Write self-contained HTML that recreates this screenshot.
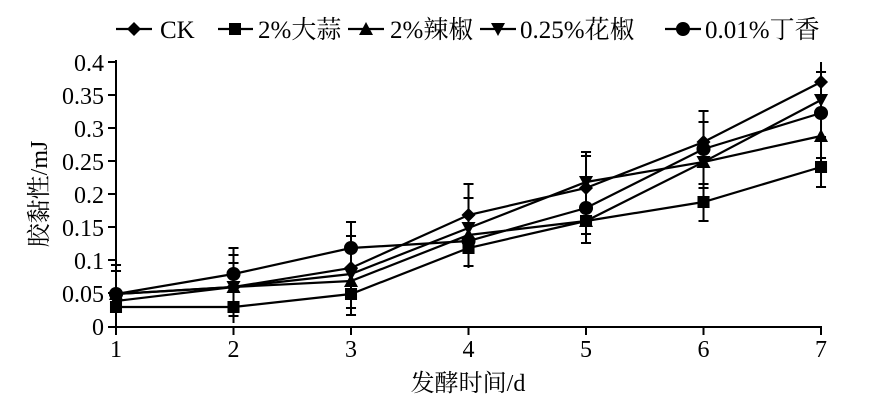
<!DOCTYPE html>
<html><head><meta charset="utf-8"><style>body{margin:0;background:#fff}svg{display:block}</style></head><body>
<svg width="874" height="402" viewBox="0 0 874 402" xmlns="http://www.w3.org/2000/svg" font-family="'Liberation Serif','Noto Serif CJK SC',serif">
<defs>
<path id="dia" d="M0,-7 L7,0 L0,7 L-7,0Z"/>
<rect id="sq" x="-6" y="-6" width="12" height="12"/>
<path id="tri" d="M0,-7 L7,6 L-7,6Z"/>
<path id="itri" d="M0,7 L7,-6 L-7,-6Z"/>
<circle id="cir" r="7"/>
</defs>
<g stroke="#000" stroke-width="2" fill="none">
<line x1="116" y1="60" x2="116" y2="327"/>
<line x1="116" y1="327" x2="822" y2="327"/>
<line x1="108" y1="62" x2="116" y2="62"/><line x1="108" y1="95" x2="116" y2="95"/><line x1="108" y1="128" x2="116" y2="128"/><line x1="108" y1="161" x2="116" y2="161"/><line x1="108" y1="194" x2="116" y2="194"/><line x1="108" y1="227" x2="116" y2="227"/><line x1="108" y1="260" x2="116" y2="260"/><line x1="108" y1="293" x2="116" y2="293"/><line x1="108" y1="327" x2="116" y2="327"/>
<line x1="116" y1="327" x2="116" y2="335"/><line x1="233.5" y1="327" x2="233.5" y2="335"/><line x1="351" y1="327" x2="351" y2="335"/><line x1="468.5" y1="327" x2="468.5" y2="335"/><line x1="586" y1="327" x2="586" y2="335"/><line x1="703.5" y1="327" x2="703.5" y2="335"/><line x1="821" y1="327" x2="821" y2="335"/>
</g>
<g font-size="24" text-anchor="end" fill="#000">
<text x="104" y="71">0.4</text><text x="104" y="104">0.35</text><text x="104" y="137">0.3</text><text x="104" y="170">0.25</text><text x="104" y="203">0.2</text><text x="104" y="236">0.15</text><text x="104" y="269">0.1</text><text x="104" y="302">0.05</text><text x="104" y="335">0</text>
</g>
<g font-size="24" text-anchor="middle" fill="#000">
<text x="116" y="357">1</text><text x="233.5" y="357">2</text><text x="351" y="357">3</text><text x="468.5" y="357">4</text><text x="586" y="357">5</text><text x="703.5" y="357">6</text><text x="821" y="357">7</text>
<text x="468" y="391">发酵时间/d</text>
</g>
<text transform="translate(47,194) rotate(-90)" font-size="24" text-anchor="middle">胶黏性/mJ</text>
<g transform="translate(116,0) scale(1.0043,1) translate(-116,0)">
<g stroke="#000" stroke-width="2">
<path d="M116,265V312M111,265h10M111,271h10M111,306h10 M233,248V323M228,248h10M228,255h10M228,263h10M228,316h10 M350,222V315M345,222h10M345,236h10M345,315h10M345,308h10 M467,184V268M462,184h10M462,198h10M462,266h10 M584,152V243M579,152h10M579,156h10M579,243h10M579,234h10 M701,111V221M696,111h10M696,122h10M696,221h10M696,184h10M696,188h10 M818,62V187M813,72h10M813,137h10M813,158h10M813,187h10"/>
</g>
<g stroke="#000" stroke-width="2.2" fill="none">
<polyline points="116,294 233,287 350,268 467,215 584,188 701,142 818,82"/>
<polyline points="116,307 233,307 350,294 467,248 584,221 701,202 818,167"/>
<polyline points="116,294 233,287 350,281 467,235 584,221 701,162 818,136"/>
<polyline points="116,301 233,287 350,274 467,228 584,182 701,162 818,100"/>
<polyline points="116,294 233,274 350,248 467,241 584,208 701,149 818,113"/>
</g>
<g fill="#000">
<use href="#dia" x="116" y="294"/><use href="#dia" x="233" y="287"/><use href="#dia" x="350" y="268"/><use href="#dia" x="467" y="215"/><use href="#dia" x="584" y="188"/><use href="#dia" x="701" y="142"/><use href="#dia" x="818" y="82"/>
<use href="#sq" x="116" y="307"/><use href="#sq" x="233" y="307"/><use href="#sq" x="350" y="294"/><use href="#sq" x="467" y="248"/><use href="#sq" x="584" y="221"/><use href="#sq" x="701" y="202"/><use href="#sq" x="818" y="167"/>
<use href="#tri" x="116" y="294"/><use href="#tri" x="233" y="287"/><use href="#tri" x="350" y="281"/><use href="#tri" x="467" y="235"/><use href="#tri" x="584" y="221"/><use href="#tri" x="701" y="162"/><use href="#tri" x="818" y="136"/>
<use href="#itri" x="116" y="301"/><use href="#itri" x="233" y="287"/><use href="#itri" x="350" y="274"/><use href="#itri" x="467" y="228"/><use href="#itri" x="584" y="182"/><use href="#itri" x="701" y="162"/><use href="#itri" x="818" y="100"/>
<use href="#cir" x="116" y="294"/><use href="#cir" x="233" y="274"/><use href="#cir" x="350" y="248"/><use href="#cir" x="467" y="241"/><use href="#cir" x="584" y="208"/><use href="#cir" x="701" y="149"/><use href="#cir" x="818" y="113"/>
</g>
</g>
<g stroke="#000" stroke-width="2.2">
<line x1="116" y1="29" x2="152" y2="29"/><line x1="218" y1="29" x2="253" y2="29"/><line x1="348" y1="29" x2="384" y2="29"/><line x1="480" y1="29" x2="516" y2="29"/><line x1="665" y1="29" x2="701" y2="29"/>
</g>
<g fill="#000">
<use href="#dia" x="134" y="29"/><use href="#sq" x="235" y="29"/><use href="#tri" x="366" y="29"/><use href="#itri" x="498" y="29"/><use href="#cir" x="683" y="29"/>
</g>
<g font-size="25" fill="#000">
<text x="160" y="38">CK</text><text x="258" y="38">2%大蒜</text><text x="390" y="38">2%辣椒</text><text x="520" y="38">0.25%花椒</text><text x="705" y="38">0.01%丁香</text>
</g>
</svg>
</body></html>
